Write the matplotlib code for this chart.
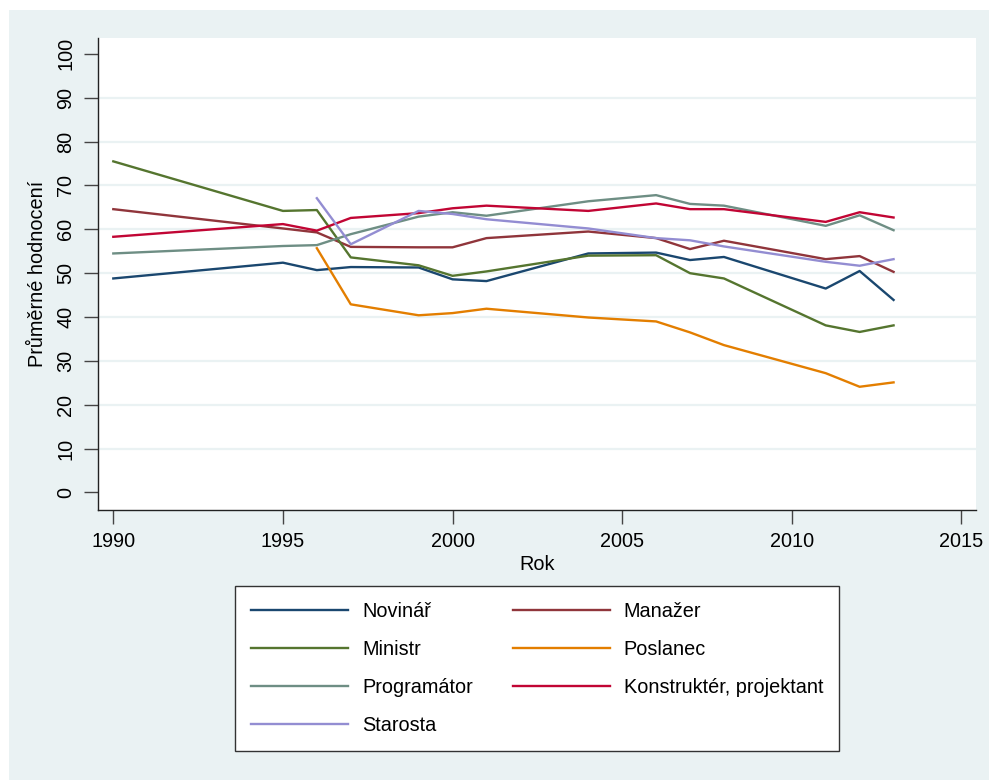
import matplotlib
matplotlib.use("Agg")
import matplotlib.pyplot as plt
from matplotlib.patches import Rectangle

plt.rcParams['font.family'] = ['Liberation Sans', 'DejaVu Sans']

# years of the survey
roky = [1990, 1995, 1996, 1997, 1999, 2000, 2001, 2004, 2006, 2007, 2008, 2011, 2012, 2013]
roky_96 = roky[2:]

novinar = [48.8, 52.4, 50.7, 51.4, 51.3, 48.6, 48.2, 54.5, 54.7, 53.0, 53.7, 46.5, 50.5, 43.9]
manazer = [64.6, 60.2, 59.3, 56.0, 55.9, 55.9, 58.0, 59.5, 58.0, 55.5, 57.4, 53.2, 53.9, 50.3]
ministr = [75.5, 64.2, 64.4, 53.6, 51.8, 49.4, 50.4, 54.0, 54.1, 50.0, 48.8, 38.1, 36.6, 38.1]
poslanec = [55.7, 42.9, 40.4, 40.9, 41.9, 39.9, 39.0, 36.5, 33.6, 27.2, 24.1, 25.1]
programator = [54.5, 56.2, 56.4, 58.9, 62.9, 63.9, 63.1, 66.4, 67.8, 65.8, 65.4, 60.8, 63.2, 59.8]
konstrukter = [58.3, 61.2, 59.7, 62.6, 63.7, 64.8, 65.4, 64.2, 65.9, 64.6, 64.6, 61.7, 63.9, 62.7]
starosta = [67.1, 56.6, 64.2, 63.5, 62.3, 60.2, 58.0, 57.5, 56.1, 52.6, 51.7, 53.2]

bg = '#EAF2F3'
fs = 14.3

fig = plt.figure(figsize=(9.89, 7.80), dpi=100)
fig.patches.append(Rectangle((9 / 989, 0), 1, 1 - 10 / 780, transform=fig.transFigure,
                             facecolor=bg, edgecolor='none', zorder=-10))

ax = fig.add_axes([97.7 / 989, 1 - 510 / 780, (976 - 97.7) / 989, (510 - 37.7) / 780])
ax.set_facecolor('white')

lw = 1.7
l1, = ax.plot(roky, novinar, color='#1A476F', lw=lw)
l2, = ax.plot(roky, manazer, color='#90353B', lw=lw)
l3, = ax.plot(roky, ministr, color='#55752F', lw=lw)
l4, = ax.plot(roky_96, poslanec, color='#E37E00', lw=lw)
l5, = ax.plot(roky, programator, color='#6E8E84', lw=lw)
l6, = ax.plot(roky, konstrukter, color='#C10534', lw=lw)
l7, = ax.plot(roky_96, starosta, color='#938DD2', lw=lw)

ax.set_xlim(1989.54, 2015.43)
ax.set_ylim(-4.0, 103.7)
ax.set_xticks(range(1990, 2016, 5))
ax.set_yticks(range(0, 101, 10))
for g in range(10, 100, 10):
    ax.axhline(g, color=bg, lw=1.6, zorder=0)

for s in ['top', 'right']:
    ax.spines[s].set_visible(False)
for s in ['left', 'bottom']:
    ax.spines[s].set_color('#222222')
    ax.spines[s].set_linewidth(1.0)

ax.tick_params(axis='both', length=10, width=1.0, color='#444444', labelsize=fs, pad=6)
for t in ax.get_yticklabels():
    t.set_rotation(90)
    t.set_va('center')

ax.set_xlabel('Rok', fontsize=fs, labelpad=3)
ax.set_ylabel('Průměrné hodnocení', fontsize=fs, labelpad=7)

# column-wise order so the legend reads row by row like the original
handles = [l1, l3, l5, l7, l2, l4, l6]
labels = ['Novinář', 'Ministr', 'Programátor', 'Starosta',
          'Manažer', 'Poslanec', 'Konstruktér, projektant']
leg = fig.legend(handles, labels, ncol=2, loc='upper left',
                 bbox_to_anchor=(235 / 989, 1 - 586 / 780), fontsize=fs,
                 frameon=True, fancybox=False, edgecolor='#333333', framealpha=1,
                 handlelength=4.9, handletextpad=0.7, columnspacing=2.0,
                 labelspacing=0.96, borderpad=0.8, borderaxespad=0)
leg.get_frame().set_linewidth(1.0)
leg.get_frame().set_facecolor('white')

fig.savefig('out.png', dpi=100, facecolor='white')
